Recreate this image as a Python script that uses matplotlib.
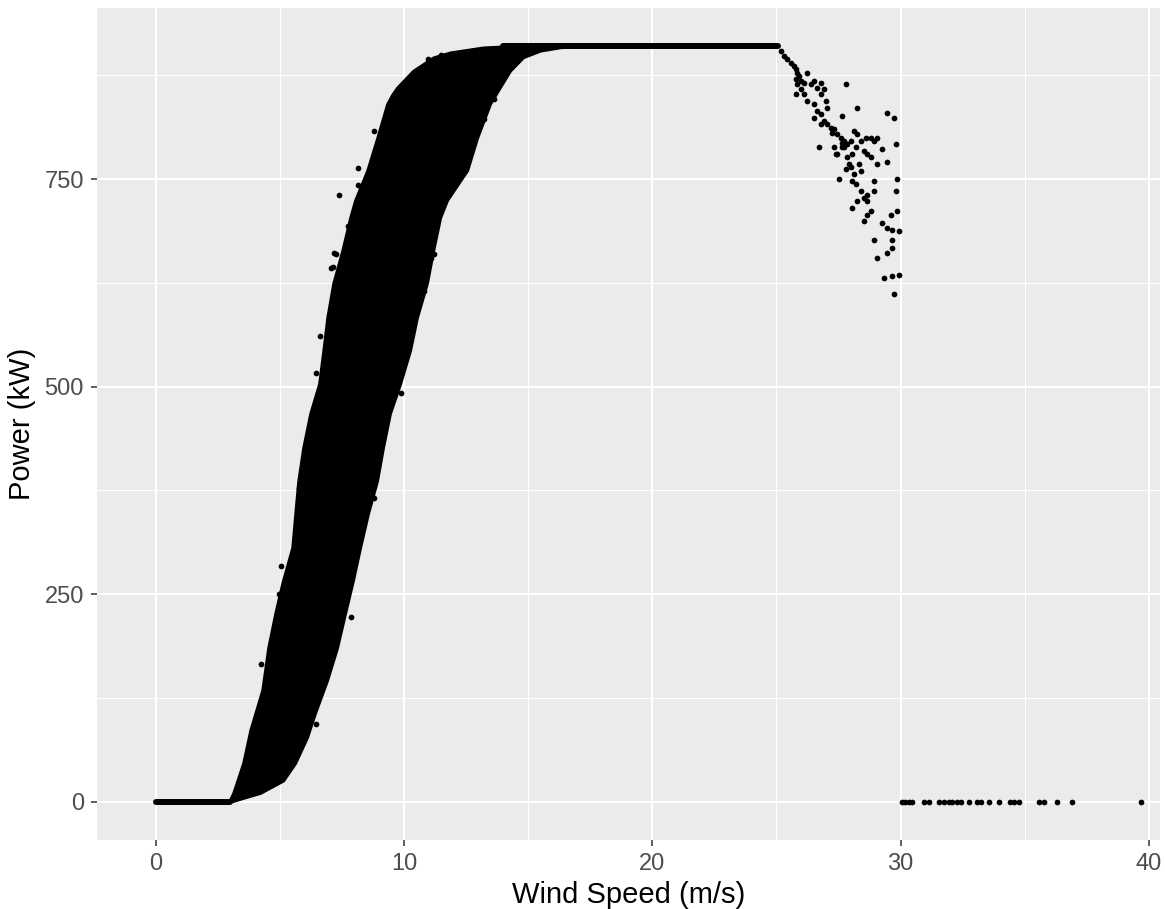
import matplotlib
matplotlib.use("Agg")
import matplotlib.pyplot as plt
import numpy as np

# dense part of the power curve, read as left / right outline of the black band
left_ws = [2.98, 3.14, 3.54, 3.83, 4.31, 4.55, 4.83, 5.11, 5.52, 5.64, 5.76, 5.96, 6.24, 6.60,
           6.77, 6.93, 7.17, 7.53, 7.85, 8.05, 8.54, 8.94, 9.34, 9.54, 9.75, 10.39, 11.20, 11.88,
           13.21, 14.58]
left_kw = [0, 10, 46, 86, 134, 185, 226, 262, 306, 347, 386, 426, 467, 503,
           543, 583, 624, 663, 703, 724, 760, 799, 840, 851, 860, 880, 896, 902,
           908, 910]
right_ws = [3.10, 3.54, 4.23, 5.16, 5.64, 6.12, 6.44, 6.93, 7.33, 7.65, 7.97, 8.26, 8.58, 8.94,
            9.18, 9.46, 9.87, 10.27, 10.55, 10.95, 11.20, 11.48, 11.76, 12.57, 12.97, 13.49,
            13.89, 14.30, 14.82, 15.51, 16.31, 17.24]
right_kw = [0, 4, 10, 25, 46, 77, 106, 146, 185, 226, 266, 306, 347, 386,
            426, 467, 503, 543, 583, 624, 663, 703, 724, 760, 799, 840,
            860, 880, 896, 904, 908, 910]

# flat parts (below cut-in and at rated power)
cutin_ws = [0.0, 3.0]
cutin_kw = [0, 0]
rated_ws = [14.0, 25.05]
rated_kw = [910, 910]

# loose points along the band edges
edge_ws = [7.37, 8.14, 8.14, 8.78, 10.35, 10.95, 11.48, 13.21, 13.61, 6.60, 7.25, 7.13, 6.44,
           10.79, 11.20, 7.73, 5.03, 5.76, 6.12, 9.87, 8.78, 4.23, 3.95, 7.85, 6.44, 4.95,
           7.17, 7.05, 11.08]
edge_kw = [731, 763, 743, 808, 876, 895, 899, 822, 846, 561, 660, 644, 516,
           615, 660, 693, 284, 378, 432, 492, 366, 166, 89, 222, 94, 250,
           661, 643, 655]

# high wind region, 25-30 m/s
high_ws = [25.17, 25.31, 25.44, 25.57, 25.71, 25.78, 25.84, 25.91, 25.78, 25.98, 25.84, 26.11,
           26.25, 25.98, 25.78, 26.11, 26.38, 26.51, 26.65, 26.78, 26.92, 26.78, 26.25, 26.51,
           26.65, 26.51, 26.78, 26.92, 27.05, 27.19, 26.78, 26.98, 27.05, 27.25, 27.32, 27.45,
           27.59, 27.72, 27.66, 27.86, 27.99, 28.13, 28.26, 28.19, 28.06, 27.86, 27.72, 28.39,
           28.53, 28.66, 28.60, 28.80, 28.93, 29.07, 28.80, 28.33, 28.39, 28.13, 28.06, 28.19,
           28.39, 28.53, 28.66, 28.26, 28.66, 28.93, 28.93, 29.07, 29.27, 29.47, 27.79, 28.26,
           27.66, 26.72, 27.39, 27.79, 27.52, 29.47, 29.74, 29.80, 29.87, 29.80, 29.60, 29.87,
           29.94, 29.67, 29.27, 29.47, 29.67, 29.67, 29.47, 28.93, 29.07, 28.80, 28.53, 28.66,
           28.06, 29.33, 29.67, 29.94, 29.74, 27.66, 27.45, 27.32, 27.92, 27.99]
high_kw = [904, 898, 894, 890, 886, 882, 878, 874, 870, 868, 864, 866,
           878, 858, 852, 852, 864, 868, 860, 866, 858, 852, 844, 840,
           832, 824, 828, 820, 816, 812, 816, 844, 836, 806, 810, 804,
           800, 796, 788, 792, 796, 808, 804, 788, 780, 776, 788, 796,
           784, 780, 800, 800, 796, 800, 776, 768, 760, 756, 748, 744,
           736, 727, 723, 723, 731, 736, 748, 768, 786, 770, 864, 836,
           826, 788, 780, 762, 750, 830, 824, 792, 750, 736, 707, 711,
           687, 689, 697, 691, 677, 667, 661, 677, 655, 711, 699, 707,
           715, 631, 633, 635, 611, 794, 780, 788, 768, 764]

# zero output above cut-out
cutout_ws = [30.07, 30.20, 30.34, 30.47, 30.94, 31.14, 31.55, 31.75, 31.95, 32.08, 32.29, 32.42,
             32.76, 33.09, 33.23, 33.56, 33.96, 34.41, 34.57, 34.77, 35.57, 35.78, 36.31, 36.92,
             39.67]
cutout_kw = [0] * len(cutout_ws)

bg = "#EBEBEB"
plt.rcParams["font.family"] = ["Liberation Sans", "DejaVu Sans"]

fig = plt.figure(figsize=(11.65, 9.09), dpi=100)
ax = fig.add_axes([0.0833, 0.0759, 0.9124, 0.9153])
ax.set_facecolor(bg)

ax.fill(np.concatenate([left_ws, right_ws[::-1]]), np.concatenate([left_kw, right_kw[::-1]]),
        facecolor="black", edgecolor="black", lw=2, joinstyle="round", zorder=3)
ax.plot(cutin_ws, cutin_kw, color="black", lw=4.3, solid_capstyle="round", zorder=3)
ax.plot(rated_ws, rated_kw, color="black", lw=4.3, solid_capstyle="round", zorder=3)

ms = 17
ax.scatter(edge_ws, edge_kw, s=ms, color="black", lw=0, zorder=3)
ax.scatter(high_ws, high_kw, s=ms, color="black", lw=0, zorder=3)
ax.scatter(cutout_ws, cutout_kw, s=ms, color="black", lw=0, zorder=3)

ax.set_xlim(-2.36, 40.45)
ax.set_ylim(-46, 956)
ax.set_xticks([0, 10, 20, 30, 40])
ax.set_yticks([0, 250, 500, 750])
ax.set_xticks([5, 15, 25, 35], minor=True)
ax.set_yticks([125, 375, 625, 875], minor=True)
ax.grid(which="major", color="white", lw=1.5, zorder=1)
ax.grid(which="minor", color="white", lw=0.75, zorder=1)
ax.set_axisbelow(True)

for s in ax.spines.values():
    s.set_visible(False)
ax.tick_params(which="major", length=4.5, width=1.1, color="#333333",
               labelcolor="#4D4D4D", labelsize=17, pad=5)
ax.tick_params(which="minor", length=0)

ax.set_xlabel("Wind Speed (m/s)", fontsize=21, color="black", labelpad=4)
ax.set_ylabel("Power (kW)", fontsize=21, color="black", labelpad=6)

fig.savefig("out.png", dpi=100, facecolor="white")
